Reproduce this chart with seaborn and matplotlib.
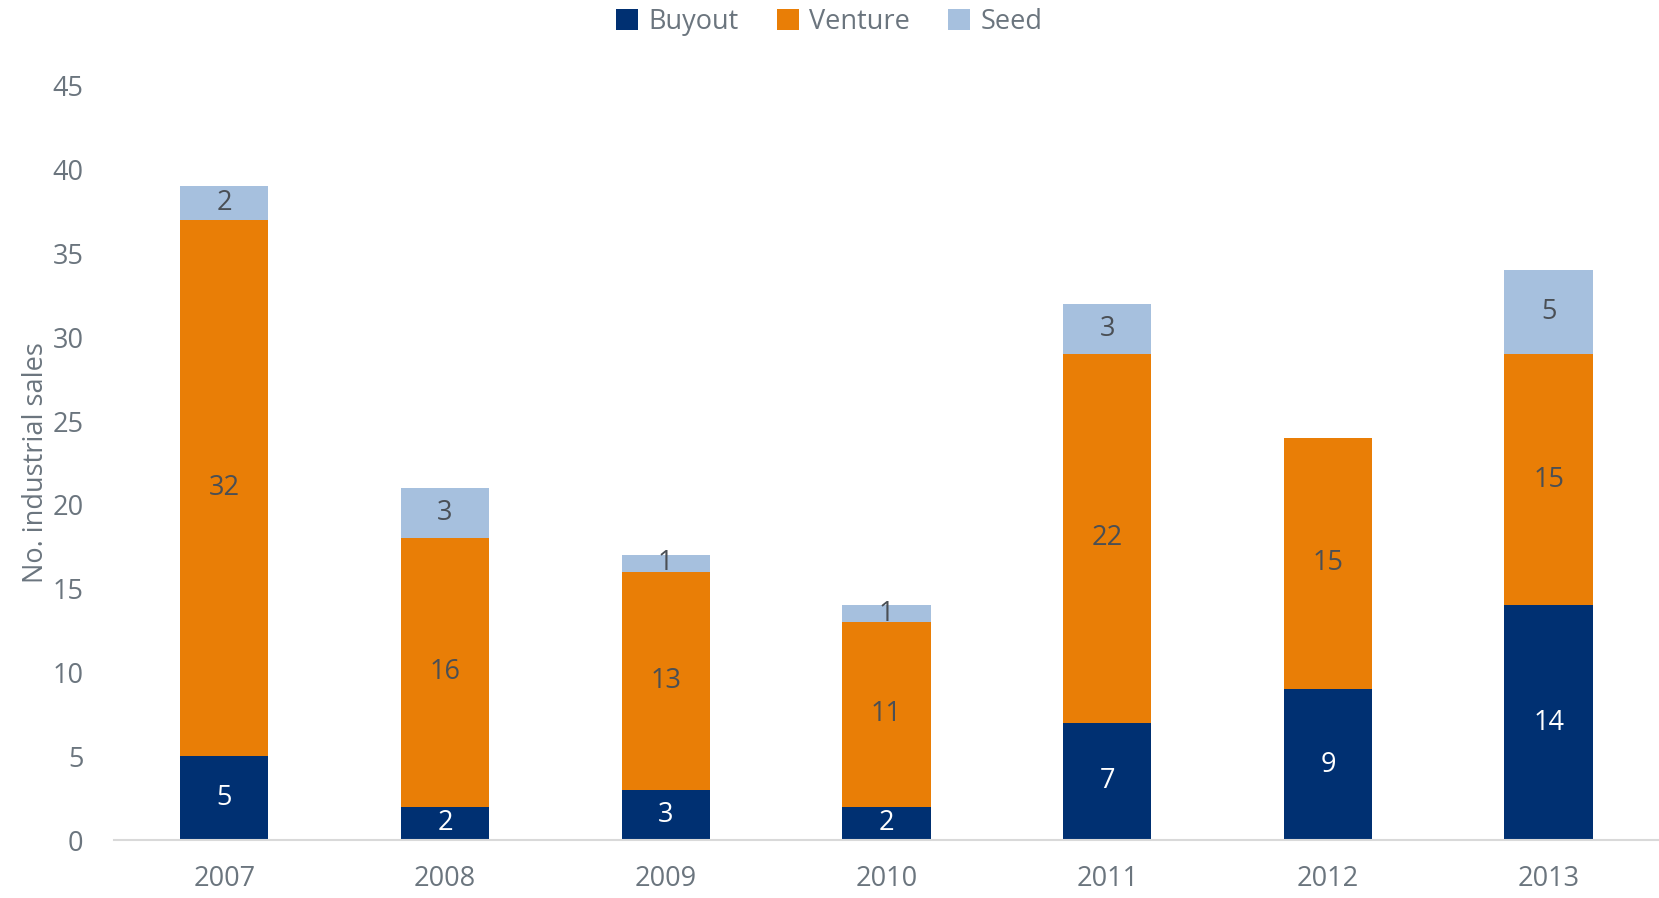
import numpy as np
import pandas as pd
import seaborn as sns
import matplotlib.pyplot as plt

# Datos del grafico
years = ['2007', '2008', '2009', '2010', '2011', '2012', '2013']
buyout = [5, 2, 3, 2, 7, 9, 14]
venture = [32, 16, 13, 11, 22, 15, 15]
seed = [2, 3, 1, 1, 3, 0, 5]

series_names = ['Buyout', 'Venture', 'Seed']
colores = ['#003072', '#E97E06', '#A6C0DE']
color_texto = ['white', '#4A4F55', '#4A4F55']

sns.set_style('white')
plt.rcParams['font.family'] = ['Open Sans', 'DejaVu Sans']

df = pd.DataFrame({'year': years, 'Buyout': buyout, 'Venture': venture, 'Seed': seed})
# Acumulados para apilar (se dibuja de atras hacia delante)
acum = df[series_names].cumsum(axis=1)

fig = plt.figure(figsize=(16.59, 8.98), dpi=100)
ax = fig.add_axes([0.0687, 0.0645, 0.9313, 0.840])

for nombre, color in reversed(list(zip(series_names, colores))):
    sns.barplot(x=df['year'], y=acum[nombre], color=color, width=0.4,
                saturation=1, ax=ax, label=nombre, linewidth=0)

# Etiquetas de datos en el centro de cada segmento
for i in range(len(years)):
    base = 0
    for nombre, tc in zip(series_names, color_texto):
        v = df[nombre].iloc[i]
        if v > 0:
            ax.text(i, base + v / 2, str(v), ha='center', va='center',
                    fontsize=19.5, color=tc)
        base += v

ax.set_xlim(-0.5, 6.5)
ax.set_ylim(0, 45)
ax.set_yticks(range(0, 50, 5))
ax.set_xlabel('')
ax.set_ylabel('No. industrial sales', fontsize=19.5, color='#6B757E', labelpad=2)
ax.tick_params(axis='both', labelsize=19.5, labelcolor='#6B757E', length=0)
ax.tick_params(axis='x', pad=18)
ax.tick_params(axis='y', pad=22)

for s in ['top', 'right', 'left']:
    ax.spines[s].set_visible(False)
ax.spines['bottom'].set_color('#D9D9D9')
ax.spines['bottom'].set_linewidth(1.5)

handles, labels = ax.get_legend_handles_labels()
if ax.get_legend() is not None:
    ax.get_legend().remove()
orden = [labels.index(n) for n in series_names]
leg = fig.legend([handles[k] for k in orden], series_names, loc='upper center',
                 bbox_to_anchor=(0.5, 1.018), ncol=3, frameon=False, fontsize=19.5,
                 handlelength=0.8, handleheight=0.8, handletextpad=0.4, columnspacing=1.4)
for t in leg.get_texts():
    t.set_color('#6B757E')

fig.savefig('out.png', dpi=100)
